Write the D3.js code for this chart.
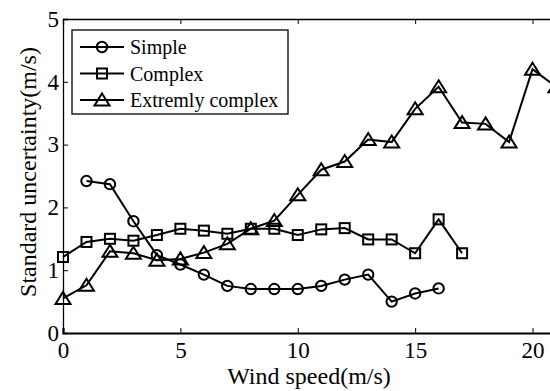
<!DOCTYPE html>
<html>
<head>
<meta charset="utf-8">
<script src="https://cdnjs.cloudflare.com/ajax/libs/d3/7.8.5/d3.min.js"></script>
<style>
  body { margin: 0; background: #fff; }
  svg { display: block; }
  text { font-family: "Liberation Serif", "Times New Roman", serif; fill: #000; }
</style>
</head>
<body>
<div id="container"></div>
<script>
// ******* Data *******
var simple_x = [1, 2, 3, 4, 5, 6, 7, 8, 9, 10, 11, 12, 13, 14, 15, 16]
var simple_y = [2.42, 2.37, 1.78, 1.24, 1.09, 0.93, 0.75, 0.70, 0.70, 0.70, 0.75, 0.85, 0.93, 0.50, 0.63, 0.71]

var complex_x = [0, 1, 2, 3, 4, 5, 6, 7, 8, 9, 10, 11, 12, 13, 14, 15, 16, 17]
var complex_y = [1.21, 1.45, 1.50, 1.47, 1.56, 1.66, 1.63, 1.58, 1.66, 1.66, 1.56, 1.65, 1.67, 1.49, 1.49, 1.27, 1.81, 1.27]

var extreme_x = [0, 1, 2, 3, 4, 5, 6, 7, 8, 9, 10, 11, 12, 13, 14, 15, 16, 17, 18, 19, 20, 21]
var extreme_y = [0.55, 0.76, 1.30, 1.27, 1.16, 1.18, 1.28, 1.42, 1.66, 1.79, 2.20, 2.60, 2.73, 3.08, 3.04, 3.57, 3.92, 3.35, 3.33, 3.04, 4.20, 3.92]

var x_ticks = [0, 5, 10, 15, 20]
var y_ticks = [0, 1, 2, 3, 4, 5]
var legend_labels = ["Simple", "Complex", "Extremly complex"]

var width = 550, height = 391;
var margin = {left: 63, top: 19, bottom: 58}; // right side of the axes box falls just outside the picture

var svg = d3.select("#container").append("svg")
  .attr("width", width)
  .attr("height", height)

var x = d3.scaleLinear().domain([0, 21]).range([margin.left, 556]);
var y = d3.scaleLinear().domain([0, 5]).range([height - margin.bottom, margin.top]);

// marker shapes, drawn hollow like matlab
function drawMarker(g, kind, cx, cy) {
  if (kind == "circle") {
    g.append("circle").attr("cx", cx).attr("cy", cy).attr("r", 5.2)
  } else if (kind == "square") {
    g.append("rect").attr("x", cx - 5).attr("y", cy - 5).attr("width", 10).attr("height", 10)
  } else {
    g.append("path").attr("d", "M" + cx + "," + (cy - 6.5) + "L" + (cx + 7.5) + "," + (cy + 5.5) + "L" + (cx - 7.5) + "," + (cy + 5.5) + "Z")
  }
}

// ******* Axes box *******
svg.append("g")
  .attr("transform", "translate(0," + y(0) + ")")
  .call(d3.axisBottom(x).tickValues(x_ticks).tickSize(-5).tickPadding(9).tickFormat(d3.format("d")))
  .call(function(g) {
    g.select(".domain").attr("stroke-width", 2.2)
    g.selectAll("text").style("font-size", "23px")
  })

svg.append("g")
  .attr("transform", "translate(0," + y(5) + ")")
  .call(d3.axisTop(x).tickValues(x_ticks).tickSize(-5).tickFormat(""))
  .call(function(g) { g.select(".domain").attr("stroke-width", 1.3) })

svg.append("g")
  .attr("transform", "translate(" + x(0) + ",0)")
  .call(d3.axisLeft(y).tickValues(y_ticks).tickSize(-5).tickPadding(4).tickFormat(d3.format("d")))
  .call(function(g) {
    g.select(".domain").attr("stroke-width", 1.3)
    g.selectAll("text").style("font-size", "23px")
  })

svg.append("g")
  .attr("transform", "translate(" + x(21) + ",0)")
  .call(d3.axisRight(y).tickValues(y_ticks).tickSize(-5).tickFormat(""))

svg.selectAll(".tick line").attr("stroke-width", 1)

// ******* Series *******
var series = [
  {xs: simple_x, ys: simple_y, marker: "circle"},
  {xs: complex_x, ys: complex_y, marker: "square"},
  {xs: extreme_x, ys: extreme_y, marker: "triangle"}
]

var line = d3.line().x(function(d) { return x(d[0]); }).y(function(d) { return y(d[1]); });

series.forEach(function(s) {
  var pts = s.xs.map(function(v, i) { return [v, s.ys[i]]; });
  svg.append("path")
    .datum(pts)
    .attr("d", line)
    .attr("fill", "none")
    .attr("stroke", "#000")
    .attr("stroke-width", 2)
  var g = svg.append("g").attr("fill", "none").attr("stroke", "#000").attr("stroke-width", 2)
  pts.forEach(function(p) { drawMarker(g, s.marker, x(p[0]), y(p[1])); })
})

// ******* Legend *******
var legend = svg.append("g")
legend.append("rect")
  .attr("x", 72).attr("y", 30).attr("width", 216).attr("height", 84)
  .attr("fill", "#fff").attr("stroke", "#000").attr("stroke-width", 1.3)

var kinds = ["circle", "square", "triangle"]
legend_labels.forEach(function(lab, i) {
  var ly = 47 + i * 26.5;
  legend.append("line").attr("x1", 80).attr("x2", 124).attr("y1", ly).attr("y2", ly)
    .attr("stroke", "#000").attr("stroke-width", 2)
  var g = legend.append("g").attr("fill", "none").attr("stroke", "#000").attr("stroke-width", 2)
  drawMarker(g, kinds[i], 102, ly)
  legend.append("text").attr("x", 130).attr("y", ly + 7).style("font-size", "20px").text(lab)
})

// ******* Axis titles *******
svg.append("text")
  .attr("x", 309)
  .attr("y", 384)
  .attr("text-anchor", "middle")
  .style("font-size", "24px")
  .text("Wind speed(m/s)");

svg.append("text")
  .attr("text-anchor", "middle")
  .attr("transform", "translate(36,172)rotate(-90)")
  .style("font-size", "24px")
  .text("Standard uncertainty(m/s)");
</script>
</body>
</html>
